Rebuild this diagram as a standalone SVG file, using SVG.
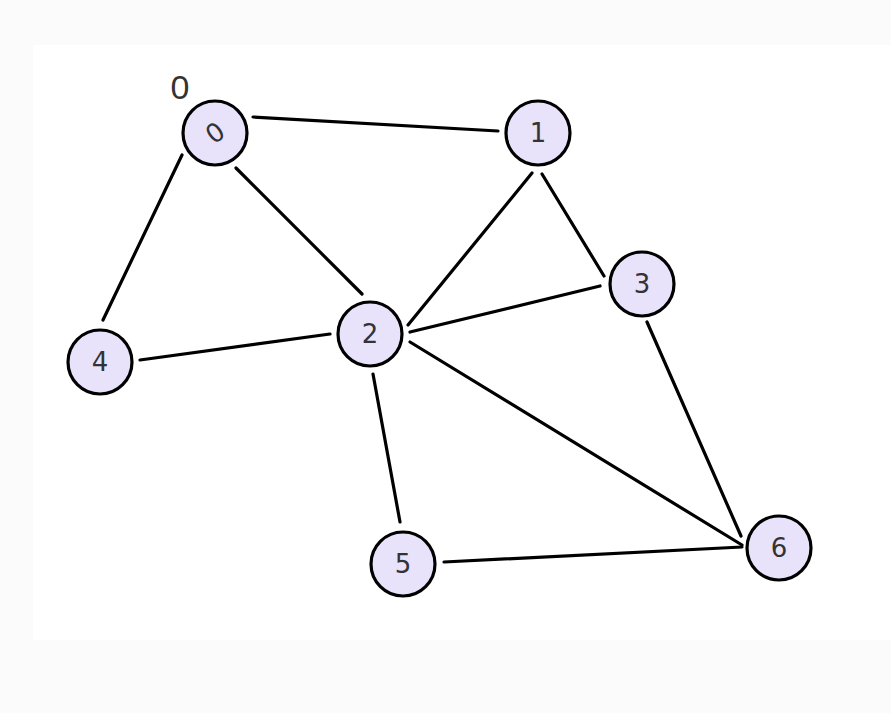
<svg xmlns="http://www.w3.org/2000/svg" width="891" height="713" viewBox="0 0 891 713">
<style>
.edge{stroke:#000;stroke-width:3.2;stroke-linecap:round;fill:none}
.node circle{fill:#e8e2fb;stroke:#000;stroke-width:3.2}
.node text{font-family:"DejaVu Sans",sans-serif;font-size:26px;fill:#333;text-anchor:middle;dominant-baseline:central}
.lbl{font-family:"Liberation Sans",sans-serif;font-size:34px;fill:#333;text-anchor:middle;dominant-baseline:central}
</style>
<rect width="891" height="713" fill="#fbfbfb"/>
<rect x="33" y="45" width="858" height="595" fill="#ffffff"/>
<g id="edges">
<line class="edge" x1="253" y1="117" x2="498" y2="131"/>
<line class="edge" x1="236" y1="168" x2="362" y2="294"/>
<line class="edge" x1="182" y1="155" x2="103" y2="320"/>
<line class="edge" x1="532" y1="173" x2="408" y2="325"/>
<line class="edge" x1="542" y1="174" x2="604" y2="276"/>
<line class="edge" x1="410" y1="332" x2="600" y2="286"/>
<line class="edge" x1="140" y1="360" x2="330" y2="334"/>
<line class="edge" x1="373" y1="374" x2="400" y2="522"/>
<line class="edge" x1="410" y1="342" x2="742" y2="545"/>
<line class="edge" x1="647" y1="322" x2="741" y2="536"/>
<line class="edge" x1="444" y1="562" x2="742" y2="547"/>
</g>
<text class="lbl" x="180" y="87">0</text>
<g id="node0" class="node"><circle cx="215" cy="133" r="32"/><text x="215" y="133" transform="rotate(-35 215 133)">0</text></g>
<g id="node1" class="node"><circle cx="538" cy="133" r="32"/><text x="538" y="133">1</text></g>
<g id="node2" class="node"><circle cx="370" cy="334" r="32"/><text x="370" y="334">2</text></g>
<g id="node3" class="node"><circle cx="642" cy="284" r="32"/><text x="642" y="284">3</text></g>
<g id="node4" class="node"><circle cx="100" cy="362" r="32"/><text x="100" y="362">4</text></g>
<g id="node5" class="node"><circle cx="403" cy="564" r="32"/><text x="403" y="564">5</text></g>
<g id="node6" class="node"><circle cx="779" cy="548" r="32"/><text x="779" y="548">6</text></g>
</svg>
